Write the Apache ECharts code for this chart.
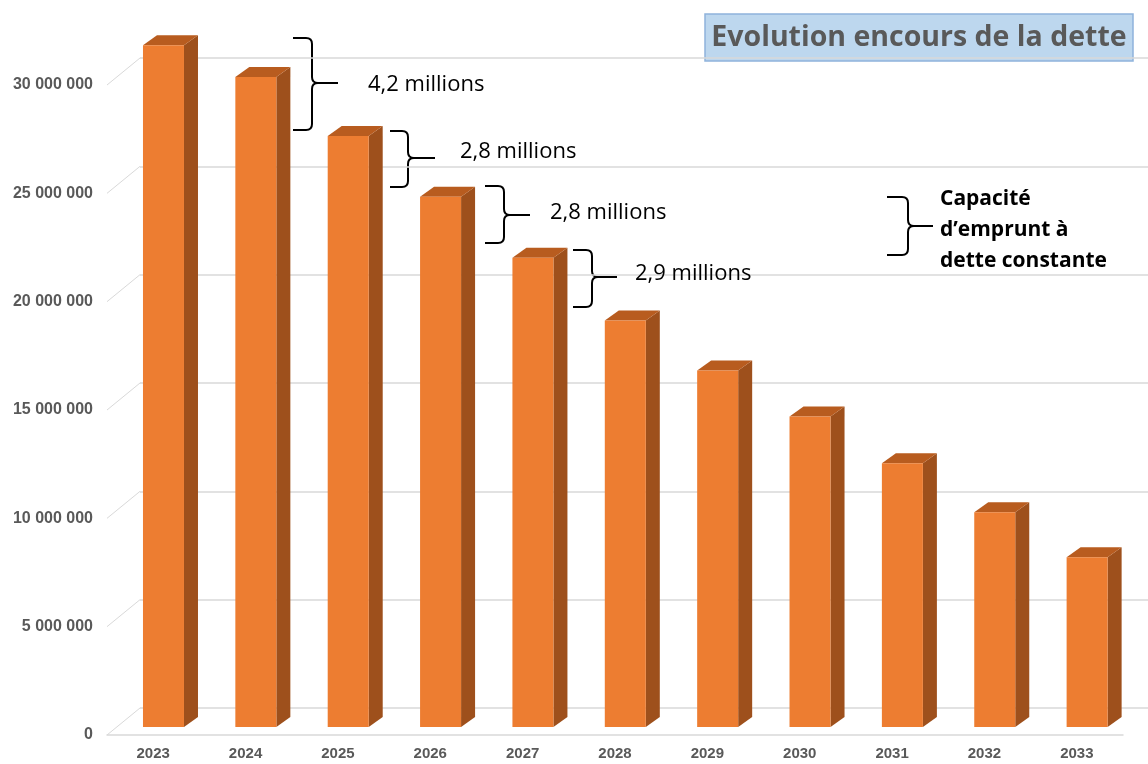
<!DOCTYPE html>
<html lang="fr">
<head>
<meta charset="utf-8">
<title>Evolution encours de la dette</title>
<script src="https://cdn.jsdelivr.net/npm/echarts@6/dist/echarts.min.js"></script>
<style>
  html, body { margin: 0; padding: 0; background: #ffffff; }
  #chart { width: 1148px; height: 764px; }
</style>
</head>
<body>
<div id="chart"></div>
<script>
// Années et encours de la dette (en euros)
const years = ['2023', '2024', '2025', '2026', '2027', '2028', '2029', '2030', '2031', '2032', '2033'];
const encours = [31470000, 30000000, 27280000, 24470000, 21660000, 18760000, 16450000, 14330000, 12170000, 9910000, 7830000];
const yTicks = [0, 5000000, 10000000, 15000000, 20000000, 25000000, 30000000];

// Textes d'annotation
const titleText = 'Evolution encours de la dette';
const ecartLabels = ['4,2 millions', '2,8 millions', '2,8 millions', '2,9 millions'];
const noteLines = ['Capacité', 'd’emprunt à', 'dette constante'];

// Perspective du graphique 3D : décalage entre le plan avant et le mur du fond
const WALL_DX = 33, WALL_DY = -27;
// Position de la face avant des barres dans la profondeur, et profondeur des barres
const BAR_DX = 10.3, BAR_DY = -8;
const SIDE_DX = 14, SIDE_DY = -10;

const FRONT = '#ED7D31';
const TOP = '#B85C1F';
const SIDE = '#9E501C';
const GRID = '#D9D9D9';

function fmt(v) {
  return String(v).replace(/\B(?=(\d{3})+(?!\d))/g, ' ');
}

function renderBar(params, api) {
  const i = api.value(0);
  const v = api.value(1);
  const top = api.coord([i, v]);
  const base = api.coord([i, 0]);
  const band = api.size([1, 0])[0];
  const w = band * 0.444;
  const x0 = top[0] - w / 2 + BAR_DX;
  const x1 = x0 + w;
  const yT = top[1] + BAR_DY;
  const yB = base[1] + BAR_DY;
  return {
    type: 'group',
    children: [
      { type: 'polygon', shape: { points: [[x1, yT], [x1 + SIDE_DX, yT + SIDE_DY], [x1 + SIDE_DX, yB + SIDE_DY], [x1, yB]] },
        style: { fill: SIDE } },
      { type: 'polygon', shape: { points: [[x0, yT], [x0 + SIDE_DX, yT + SIDE_DY], [x1 + SIDE_DX, yT + SIDE_DY], [x1, yT]] },
        style: { fill: TOP } },
      { type: 'rect', shape: { x: x0, y: yT, width: w, height: yB - yT },
        style: { fill: FRONT } }
    ]
  };
}

// Lignes du mur latéral gauche, du plan avant vers le mur du fond
function renderSideWall(params, api) {
  const p = api.coord([0, api.value(1)]);
  const x = params.coordSys.x;
  return {
    type: 'line',
    shape: { x1: x, y1: p[1], x2: x + WALL_DX, y2: p[1] + WALL_DY },
    style: { stroke: GRID, lineWidth: 1 }
  };
}

function seg(x1, y1, x2, y2) {
  return { type: 'line', shape: { x1, y1, x2, y2 }, style: { stroke: '#000', lineWidth: 2, fill: null } };
}
function curve(x1, y1, cx, cy, x2, y2) {
  return { type: 'bezierCurve', shape: { x1, y1, x2, y2, cpx1: cx, cpy1: cy },
    style: { stroke: '#000', lineWidth: 2, fill: null } };
}
// Accolade fermante « } » avec sa pointe
function brace(x0, xv, y0, y1, ym, xt) {
  const r = 6;
  return {
    type: 'group', z: 100,
    children: [
      seg(x0, y0, xv - r, y0),
      curve(xv - r, y0, xv, y0, xv, y0 + r),
      seg(xv, y0 + r, xv, ym - r),
      curve(xv, ym - r, xv, ym, xv + r, ym),
      seg(xv + r, ym, xt, ym),
      curve(xv + r, ym, xv, ym, xv, ym + r),
      seg(xv, ym + r, xv, y1 - r),
      curve(xv, y1 - r, xv, y1, xv - r, y1),
      seg(xv - r, y1, x0, y1)
    ]
  };
}

function label(text, x, y) {
  return {
    type: 'text', z: 100, x: x, y: y,
    style: { text, fill: '#000', font: '22px "Open Sans"', verticalAlign: 'middle' }
  };
}

const axisFont = { color: '#595959', fontFamily: 'Liberation Sans', fontWeight: 'bold', fontSize: 15 };

const chart = echarts.init(document.getElementById('chart'), null, { renderer: 'canvas' });

chart.setOption({
  backgroundColor: '#ffffff',
  animation: false,
  grid: [
    // mur du fond
    { left: 140, right: -8, top: 58, bottom: 56 },
    // plan avant
    { left: 107, right: 25, top: 85, bottom: 29 }
  ],
  xAxis: [
    { gridIndex: 0, type: 'category', data: years, show: false },
    {
      gridIndex: 1, type: 'category', data: years,
      axisLine: { lineStyle: { color: GRID, width: 1.5 } },
      axisTick: { show: false },
      axisLabel: Object.assign({ margin: 11 }, axisFont)
    }
  ],
  yAxis: [
    {
      gridIndex: 0, type: 'value', min: 0, max: 30000000, interval: 5000000,
      axisLine: { show: false }, axisTick: { show: false }, axisLabel: { show: false },
      splitLine: { lineStyle: { color: GRID, width: 1.5 } }
    },
    {
      gridIndex: 1, type: 'value', min: 0, max: 30000000, interval: 5000000,
      axisLine: { show: false }, axisTick: { show: false }, splitLine: { show: false },
      axisLabel: Object.assign({ margin: 14, formatter: fmt }, axisFont, { fontSize: 16 })
    }
  ],
  series: [
    {
      type: 'custom', name: 'mur', xAxisIndex: 1, yAxisIndex: 1, silent: true, z: 1,
      renderItem: renderSideWall,
      data: yTicks.map(v => [0, v])
    },
    {
      type: 'custom', name: 'Encours de la dette', xAxisIndex: 1, yAxisIndex: 1, z: 5,
      clip: false,
      renderItem: renderBar,
      encode: { x: 0, y: 1 },
      data: encours.map((v, i) => [i, v])
    }
  ],
  graphic: [
    {
      type: 'group', z: 100,
      children: [
        { type: 'rect', shape: { x: 705, y: 14, width: 428, height: 47 },
          style: { fill: '#BDD7EE', stroke: '#8FB3DC', lineWidth: 1.5 } },
        { type: 'text', x: 919, y: 38,
          style: { text: titleText, fill: '#595959', font: 'bold 28.5px "Open Sans"', align: 'center', verticalAlign: 'middle' } }
      ]
    },
    brace(293, 312, 38, 130, 83, 338),
    brace(390, 408, 131, 187, 158, 435),
    brace(485, 504, 186, 243, 215, 530),
    brace(573, 592, 250, 307, 277, 617),
    brace(887, 908, 197, 255, 226, 933),
    label(ecartLabels[0], 368, 85),
    label(ecartLabels[1], 460, 152),
    label(ecartLabels[2], 550, 213),
    label(ecartLabels[3], 635, 274),
    {
      type: 'text', z: 100, left: 940, top: 184,
      style: { text: noteLines.join('\n'), fill: '#000', font: 'bold 21px "Open Sans"', lineHeight: 31 }
    }
  ]
});
</script>
</body>
</html>
